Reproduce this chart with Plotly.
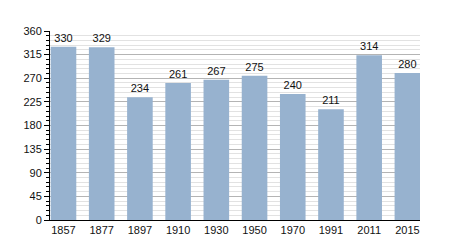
import plotly.graph_objects as go

years = ["1857", "1877", "1897", "1910", "1930", "1950", "1970", "1991", "2011", "2015"]
population = [330, 329, 234, 261, 267, 275, 240, 211, 314, 280]
y_ticks = [0, 45, 90, 135, 180, 225, 270, 315, 360]

fig = go.Figure(go.Bar(
    x=years, y=population,
    marker=dict(color="#97b2cf", line=dict(width=0)),
    text=[str(v) for v in population], textposition="outside",
    textfont=dict(size=11, color="#111", family="Liberation Sans, Arial"),
    cliponaxis=False,
))

fig.update_layout(
    width=450, height=250,
    margin=dict(l=50, r=30, t=31, b=30),
    paper_bgcolor="white", plot_bgcolor="white",
    bargap=0.33,
    showlegend=False,
    font=dict(family="Liberation Sans, Arial", size=11, color="#111"),
)
fig.update_xaxes(
    type="category", range=[-0.353, 9.33],
    showline=True, linecolor="black", linewidth=1,
    ticks="", showgrid=False, tickfont=dict(size=11),
)
fig.update_yaxes(
    range=[0, 360], tickvals=y_ticks,
    showline=True, linecolor="black", linewidth=1,
    ticks="outside", ticklen=5, tickcolor="black",
    showgrid=True, gridcolor="#b4b4b4", gridwidth=1,
    minor=dict(dtick=9, showgrid=True, gridcolor="#e2e2e2", ticks="outside", ticklen=3, tickcolor="black"),
    zeroline=False, tickfont=dict(size=11),
)

fig.write_html("out.html")
